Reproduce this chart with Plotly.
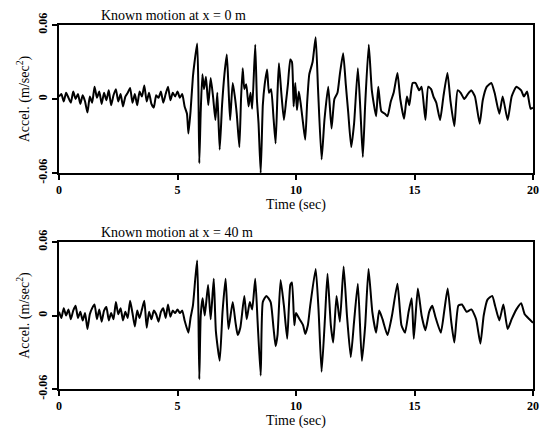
import plotly.graph_objects as go

# ---- data ----
t_top = [0.0,0.1,0.2,0.3,0.4,0.5,0.6,0.7,0.8,0.9,1.0,1.1,1.2,1.3,1.4,1.5,1.6,1.7,1.8,1.9,
         2.0,2.1,2.2,2.3,2.4,2.5,2.6,2.7,2.8,2.9,3.0,3.1,3.2,3.3,3.4,3.5,3.6,3.7,3.8,3.9,
         4.0,4.1,4.2,4.3,4.4,4.5,4.6,4.7,4.8,4.9,5.0,5.1,5.2,5.3,5.4,5.46,5.55,5.65,5.72,5.83,
         5.88,5.92,5.98,6.05,6.12,6.2,6.3,6.4,6.5,6.6,6.68,6.78,6.88,6.98,7.08,7.15,7.22,7.33,7.42,7.5,
         7.61,7.68,7.75,7.82,7.9,8.0,8.08,8.15,8.28,8.35,8.42,8.51,8.6,8.68,8.78,8.86,8.95,9.05,9.14,9.22,
         9.28,9.38,9.49,9.58,9.66,9.76,9.83,9.9,9.97,10.04,10.12,10.2,10.3,10.39,10.47,10.56,10.7,10.83,10.93,11.08,
         11.2,11.36,11.5,11.62,11.75,11.85,11.99,12.1,12.2,12.33,12.45,12.61,12.72,12.82,12.92,13.07,13.2,13.38,13.47,13.6,
         13.75,13.86,14.0,14.12,14.28,14.4,14.56,14.68,14.78,14.92,15.04,15.2,15.3,15.46,15.58,15.7,15.8,15.92,16.08,16.22,
         16.39,16.52,16.68,16.82,16.95,17.1,17.25,17.4,17.55,17.75,17.88,18.05,18.24,18.38,18.58,18.72,18.93,19.1,19.3,19.5,
         19.62,19.75,19.9,20.0]
a_top = [0.002,0.004,-0.002,0.005,0.001,-0.003,0.006,0.000,0.004,-0.004,0.003,-0.002,-0.011,0.002,-0.003,0.010,0.001,0.006,-0.004,0.005,
         -0.001,0.007,-0.005,0.003,0.008,-0.002,0.004,-0.006,0.002,0.005,0.009,-0.003,0.004,-0.005,0.006,0.002,0.011,-0.002,0.005,-0.004,
         -0.007,0.003,0.001,0.006,-0.003,0.004,0.010,-0.001,0.005,0.002,0.006,0.001,0.004,-0.006,-0.012,-0.028,-0.010,0.018,0.030,0.045,
         0.010,-0.052,-0.010,0.020,0.008,0.018,-0.005,0.017,0.002,-0.017,0.005,-0.041,-0.005,0.020,0.036,0.010,-0.017,0.013,0.002,-0.012,
         -0.039,0.000,0.025,0.008,0.012,-0.006,0.005,-0.008,0.044,0.000,-0.020,-0.060,-0.005,0.012,0.024,0.005,0.008,-0.015,-0.036,0.005,
         0.029,0.005,-0.017,-0.002,0.012,0.032,0.030,-0.006,0.013,-0.009,0.006,-0.004,-0.020,-0.033,-0.003,0.020,0.030,0.050,0.008,-0.049,
         -0.017,0.010,-0.024,0.000,0.005,0.020,0.037,0.012,-0.010,-0.039,-0.020,0.025,-0.010,-0.047,-0.004,0.044,0.007,-0.014,0.010,-0.010,
         -0.012,-0.014,-0.002,0.005,0.021,0.000,-0.016,0.002,-0.005,0.013,0.013,0.007,0.010,-0.017,0.010,0.008,0.002,-0.003,-0.017,0.002,
         0.021,-0.002,-0.022,0.007,0.005,0.000,0.004,0.007,0.002,-0.020,-0.001,0.010,0.013,0.005,-0.012,0.002,-0.017,0.002,0.010,0.007,
         0.002,0.006,-0.008,-0.007]

t_bot = [0.0,0.1,0.2,0.3,0.4,0.5,0.6,0.7,0.8,0.9,1.0,1.1,1.2,1.3,1.4,1.5,1.6,1.7,1.8,1.9,
         2.0,2.1,2.2,2.3,2.4,2.5,2.6,2.7,2.8,2.9,3.0,3.1,3.2,3.3,3.4,3.5,3.6,3.7,3.8,3.9,
         4.0,4.1,4.2,4.3,4.4,4.5,4.6,4.7,4.8,4.9,5.0,5.1,5.2,5.3,5.46,5.55,5.65,5.75,5.83,5.88,
         5.92,5.98,6.06,6.15,6.29,6.4,6.53,6.62,6.78,6.9,7.03,7.15,7.33,7.45,7.54,7.65,7.82,7.92,8.05,8.15,
         8.28,8.38,8.51,8.6,8.75,8.93,9.05,9.14,9.22,9.35,9.49,9.63,9.76,9.83,9.93,10.0,10.15,10.3,10.39,10.5,
         10.6,10.83,10.95,11.08,11.22,11.33,11.47,11.57,11.71,11.85,12.01,12.15,12.31,12.45,12.61,12.78,12.92,13.06,13.22,13.38,
         13.51,13.65,13.86,14.05,14.28,14.45,14.6,14.75,14.88,14.97,15.14,15.3,15.46,15.62,15.75,15.88,16.11,16.25,16.4,16.55,
         16.68,16.85,17.0,17.2,17.4,17.6,17.78,17.92,18.08,18.28,18.4,18.58,18.75,18.93,19.1,19.3,19.5,19.65,19.85,20.0]
a_bot = [0.003,-0.002,0.006,0.000,0.005,-0.003,0.004,0.008,-0.002,0.003,-0.004,0.002,-0.011,0.001,0.006,0.009,-0.003,0.005,-0.005,0.004,
         0.007,-0.004,0.002,-0.003,0.011,0.001,0.006,-0.004,0.003,-0.002,0.012,0.002,-0.009,0.004,-0.002,0.005,0.012,-0.010,0.003,-0.003,
         0.004,0.001,-0.005,0.003,0.006,-0.002,0.009,-0.001,0.004,0.002,0.005,0.002,0.004,-0.004,-0.014,-0.002,0.008,0.030,0.045,0.005,
         -0.052,0.000,0.014,0.000,0.025,-0.003,0.030,-0.013,-0.037,0.003,0.030,-0.011,0.011,-0.006,-0.016,-0.010,0.016,-0.003,0.011,0.005,
         0.030,-0.005,-0.049,0.011,0.016,0.011,-0.010,-0.025,-0.016,0.029,0.008,-0.019,0.025,0.027,-0.008,0.002,-0.003,-0.008,-0.015,-0.008,
         0.008,0.038,0.005,-0.046,-0.003,0.034,-0.008,-0.022,0.016,-0.005,0.040,0.000,-0.034,-0.005,0.026,-0.037,-0.008,0.038,0.003,-0.014,
         0.004,-0.003,-0.016,0.000,0.026,-0.008,-0.014,0.003,0.014,-0.019,0.022,0.000,-0.012,0.003,0.008,-0.001,-0.014,0.003,0.022,-0.005,
         -0.022,0.008,0.009,0.003,0.005,-0.003,-0.023,0.000,0.013,0.016,0.008,-0.004,0.009,-0.011,-0.003,0.005,0.010,0.001,-0.003,-0.006]

titles = ["Known motion at x = 0 m", "Known motion at x = 40 m"]
x_ticks = [0, 5, 10, 15, 20]
y_ticks = [-0.06, 0, 0.06]
y_tick_text = ["-0.06", "0", "0.06"]

FONT = "Liberation Serif"
LINE = dict(color="black", width=2, shape="spline", smoothing=0.5)

fig = go.Figure()
fig.add_trace(go.Scatter(x=t_top, y=a_top, mode="lines", line=LINE,
                         xaxis="x", yaxis="y", showlegend=False))
fig.add_trace(go.Scatter(x=t_bot, y=a_bot, mode="lines", line=LINE,
                         xaxis="x2", yaxis="y2", showlegend=False))

ax_common = dict(showline=True, linecolor="black", linewidth=1.5, mirror=True, showgrid=False,
                 zeroline=False, ticks="outside", ticklen=5, tickwidth=1.5, tickcolor="black",
                 tickfont=dict(family=FONT, size=12, color="black", weight="bold"))

xax = dict(ax_common, range=[0, 20], tickvals=x_ticks,
           title=dict(text="Time (sec)", font=dict(family=FONT, size=14, color="black"), standoff=2))
yax = dict(ax_common, range=[-0.06, 0.06], tickvals=y_ticks, ticktext=y_tick_text, tickangle=-90,
           title=dict(text="Accel. (m/sec<sup>2</sup>)", font=dict(family=FONT, size=14, color="black"),
                      standoff=4))

fig.update_layout(
    width=546, height=432,
    margin=dict(l=59, r=7, t=25, b=43),
    paper_bgcolor="white", plot_bgcolor="white",
    xaxis=dict(xax, domain=[0, 1], anchor="y"),
    yaxis=dict(yax, domain=[0.5934, 1], anchor="x"),
    xaxis2=dict(xax, domain=[0, 1], anchor="y2"),
    yaxis2=dict(yax, domain=[0, 0.4038], anchor="x2"),
    annotations=[
        dict(text=titles[0], xref="paper", yref="paper", x=0.085, y=1.0, xanchor="left",
             yanchor="bottom", showarrow=False, font=dict(family=FONT, size=14, color="black")),
        dict(text=titles[1], xref="paper", yref="paper", x=0.085, y=0.4038, xanchor="left",
             yanchor="bottom", showarrow=False, font=dict(family=FONT, size=14, color="black")),
    ],
)

fig.write_html("out.html")
